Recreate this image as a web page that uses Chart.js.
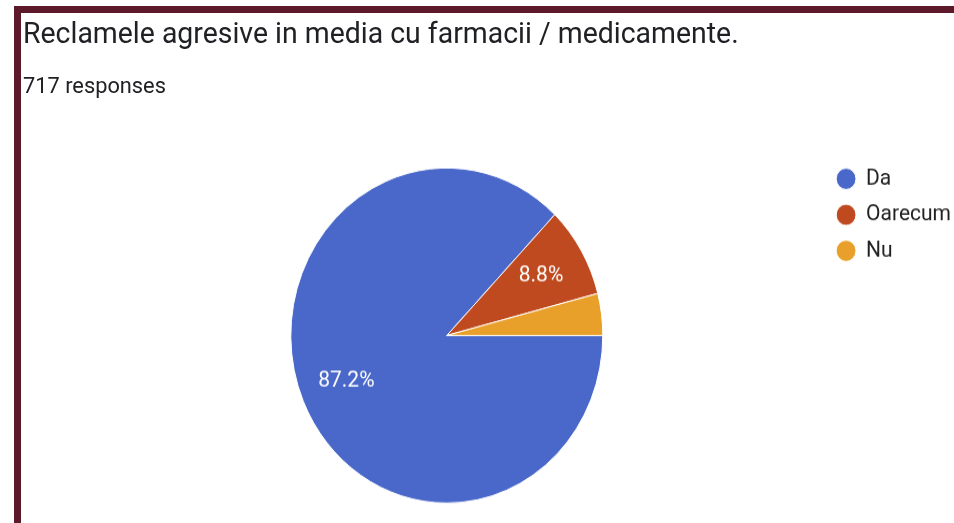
<!DOCTYPE html>
<html>
<head>
<meta charset="utf-8">
<script src="https://cdn.jsdelivr.net/npm/chart.js@4/dist/chart.umd.min.js"></script>
<style>
  html, body { margin: 0; padding: 0; background: #fff; overflow: hidden; width: 954px; height: 523px; }
  #frame { position: absolute; left: 14px; top: 6px; width: 960px; height: 540px;
           border-top: 7px solid #5b1929; border-left: 7px solid #5b1929; box-sizing: border-box; z-index: 2; }
  #wrap { position: absolute; left: 0; top: 0; width: 961px; height: 487px;
          transform: scaleY(1.074); transform-origin: 0 0; }
  #title { position: absolute; left: 23px; top: 15px; font: 27px/32px Roboto, sans-serif; color: #202124;
           white-space: nowrap; transform: scaleX(1.053); transform-origin: 0 0; }
  #sub { position: absolute; left: 23px; top: 68px; font: 20px/24px Roboto, sans-serif; color: #202124;
         white-space: nowrap; transform: scaleX(1.09); transform-origin: 0 0; }
  #c { position: absolute; left: 0; top: 0; }
</style>
</head>
<body>
<div id="frame"></div>
<div id="wrap">
  <div id="title">Reclamele agresive in media cu farmacii / medicamente.</div>
  <div id="sub">717 responses</div>
  <canvas id="c" width="961" height="487"></canvas>
</div>
<script>
const labels = ['Da', 'Oarecum', 'Nu'];
const responses = [625, 63, 29];
const colors = ['#4a68c9', '#c04a20', '#e8a02a'];

// percent labels inside the bigger slices
const pctLabels = {
  id: 'pctLabels',
  afterDatasetsDraw(chart) {
    const ctx = chart.ctx;
    const meta = chart.getDatasetMeta(0);
    const data = chart.data.datasets[0].data;
    const total = data.reduce((a, b) => a + b, 0);
    ctx.save();
    ctx.font = '21px Roboto';
    ctx.fillStyle = '#ffffff';
    ctx.textAlign = 'center';
    ctx.textBaseline = 'middle';
    meta.data.forEach((arc, i) => {
      const pct = data[i] / total * 100;
      if (pct < 5) return;
      const p = arc.getProps(['x', 'y', 'startAngle', 'endAngle', 'outerRadius'], true);
      const mid = (p.startAngle + p.endAngle) / 2;
      const r = p.outerRadius * 0.7;
      ctx.fillText(pct.toFixed(1) + '%', p.x + Math.cos(mid) * r, p.y + Math.sin(mid) * r);
    });
    ctx.restore();
  }
};

new Chart(document.getElementById('c'), {
  type: 'pie',
  data: {
    labels: labels,
    datasets: [{
      data: responses,
      backgroundColor: colors,
      borderColor: '#ffffff',
      borderWidth: 1,
      radius: 156
    }]
  },
  options: {
    responsive: false,
    animation: false,
    rotation: 90,
    layout: { padding: { top: 143.5, bottom: 5.7, left: 69.5, right: 0 } },
    plugins: {
      tooltip: { enabled: false },
      legend: {
        position: 'right',
        align: 'start',
        labels: {
          usePointStyle: true,
          pointStyle: 'circle',
          boxHeight: 14,
          boxWidth: 19,
          padding: 12.5,
          color: '#212121',
          font: { family: 'Roboto', size: 21 }
        }
      }
    }
  },
  plugins: [pctLabels]
});
</script>
</body>
</html>
